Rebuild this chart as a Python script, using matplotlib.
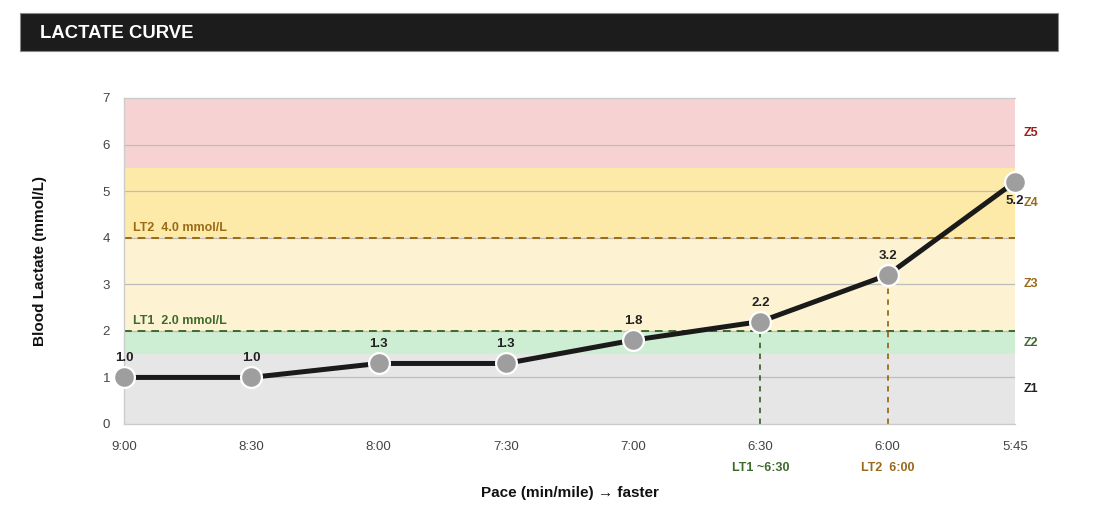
import matplotlib
matplotlib.use("Agg")
import matplotlib.pyplot as plt
from matplotlib.patches import Rectangle

plt.rcParams['font.family'] = ['Liberation Sans', 'DejaVu Sans']

# Data
paces = ["9:00", "8:30", "8:00", "7:30", "7:00", "6:30", "6:00", "5:45"]
lactate = [1.0, 1.0, 1.3, 1.3, 1.8, 2.2, 3.2, 5.2]

# Training zones
zone_names = ["Z1", "Z2", "Z3", "Z4", "Z5"]
zone_low = [0.0, 1.5, 2.0, 4.0, 5.5]
zone_high = [1.5, 2.0, 4.0, 5.5, 7.0]
zone_fill = ["#e6e6e6", "#cdeed3", "#fdf3d2", "#fdeaa8", "#f7d2d2"]
zone_text = ["#222222", "#3d6b2c", "#9a6a1a", "#9a6a1a", "#a01c1c"]
zone_label_y = [0.75, 1.75, 3.0, 4.75, 6.25]

lt1_value, lt2_value = 2.0, 4.0
lt1_idx, lt2_idx = 5, 6
green = "#3d6b2c"
brown = "#9a6a1a"

fig = plt.figure(figsize=(10.98, 5.12), dpi=100)

# Header bar
fig.patches.append(Rectangle((20 / 1098, 1 - 51 / 512), 1038 / 1098, 38 / 512,
                             transform=fig.transFigure, facecolor="#1c1c1c",
                             edgecolor="#888888", linewidth=0.8))
fig.text(40 / 1098, 1 - 33 / 512, "LACTATE CURVE", color="white",
         fontsize=13.3, fontweight="bold", va="center", ha="left")

ax = fig.add_axes([124 / 1098, 1 - 424 / 512, 891 / 1098, 326 / 512])
x = list(range(len(paces)))
ax.set_xlim(0, len(paces) - 1)
ax.set_ylim(0, 7)

for lo, hi, c in zip(zone_low, zone_high, zone_fill):
    ax.axhspan(lo, hi, color=c, zorder=0, linewidth=0)

for yv in range(1, 7):
    ax.axhline(yv, color="#bdbdbd", linewidth=0.9, zorder=1)

# Threshold lines
ax.axhline(lt1_value, color=green, linestyle=(0, (4, 3)), linewidth=1.4, zorder=2)
ax.axhline(lt2_value, color=brown, linestyle=(0, (4, 3)), linewidth=1.4, zorder=2)
ax.text(0.07, lt2_value + 0.08, "LT2  4.0 mmol/L", color=brown, fontsize=9,
        fontweight="bold", va="bottom", ha="left")
ax.text(0.07, lt1_value + 0.08, "LT1  2.0 mmol/L", color=green, fontsize=9,
        fontweight="bold", va="bottom", ha="left")

ax.plot([lt1_idx, lt1_idx], [0, lactate[lt1_idx]], color=green,
        linestyle=(0, (3, 3)), linewidth=1.3, zorder=2)
ax.plot([lt2_idx, lt2_idx], [0, lactate[lt2_idx]], color=brown,
        linestyle=(0, (3, 3)), linewidth=1.3, zorder=2)

# Curve
ax.plot(x, lactate, color="#1a1a1a", linewidth=3.6, zorder=3, solid_capstyle="round",
        marker="o", markersize=15, markerfacecolor="#9e9e9e",
        markeredgecolor="white", markeredgewidth=1.6, clip_on=False)

for i, v in enumerate(lactate):
    if i == len(lactate) - 1:
        ax.text(i, v - 0.28, f"{v:.1f}", fontsize=9.5, fontweight="bold",
                ha="center", va="top", color="#222222", zorder=4)
    else:
        ax.text(i, v + 0.28, f"{v:.1f}", fontsize=9.5, fontweight="bold",
                ha="center", va="bottom", color="#222222", zorder=4)

# Zone labels on the right
for name, yl, c in zip(zone_names, zone_label_y, zone_text):
    ax.text(1.01, yl / 7, name, transform=ax.transAxes, color=c,
            fontsize=9, fontweight="bold", ha="left", va="center")

ax.set_xticks(x)
ax.set_xticklabels(paces)
ax.set_yticks(range(0, 8))
ax.tick_params(axis="both", length=0, labelsize=9.5, colors="#444444")
ax.tick_params(axis="x", pad=12)
ax.tick_params(axis="y", pad=10)
for s in ax.spines.values():
    s.set_color("#cccccc")
    s.set_linewidth(1.0)
ax.spines["right"].set_visible(False)

ax.text(lt1_idx, -0.95, "LT1 ~6:30", color=green, fontsize=9, fontweight="bold",
        ha="center", va="center")
ax.text(lt2_idx, -0.95, "LT2  6:00", color=brown, fontsize=9, fontweight="bold",
        ha="center", va="center")

fig.text(570 / 1098, 1 - 493 / 512, "Pace (min/mile) \u2192 faster", fontsize=11,
         fontweight="bold", ha="center", va="center", color="#111111")
fig.text(40 / 1098, 1 - 261 / 512, "Blood Lactate (mmol/L)", fontsize=11,
         fontweight="bold", ha="center", va="center", rotation=90, color="#111111")

fig.savefig("out.png", dpi=100)
